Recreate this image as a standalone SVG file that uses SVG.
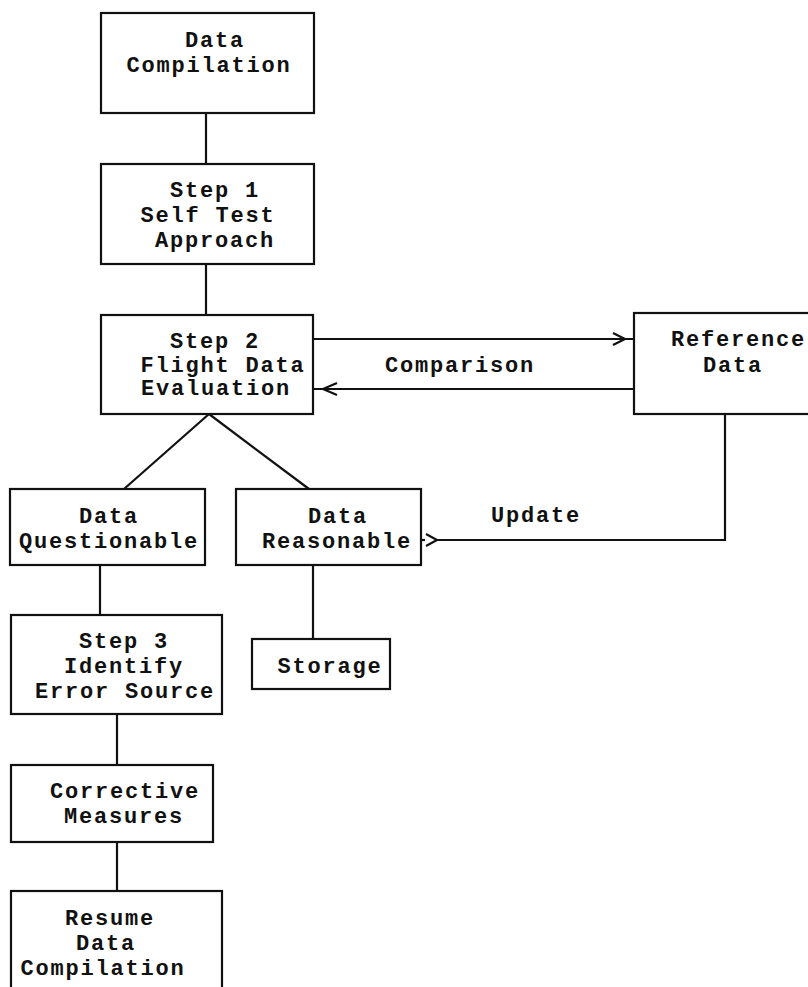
<svg xmlns="http://www.w3.org/2000/svg" width="808" height="987" viewBox="0 0 808 987">
  <style>
    .box { fill: #ffffff; stroke: #111111; stroke-width: 2.2; }
    .wire { fill: none; stroke: #111111; stroke-width: 2.2; }
    .head { fill: none; stroke: #111111; stroke-width: 2.2; stroke-linejoin: miter; }
    text { font-family: "Liberation Mono", "Courier New", monospace; font-weight: bold; font-size: 22px; letter-spacing: 1.8px; fill: #111111; text-anchor: middle; }
  </style>
  <rect width="808" height="987" fill="#ffffff"/>

  <!-- connectors -->
  <g id="connectors">
    <line class="wire" x1="206" y1="113" x2="206" y2="164"/>
    <line class="wire" x1="206" y1="264" x2="206" y2="315"/>
    <!-- comparison, outbound -->
    <line class="wire" x1="313" y1="339" x2="634" y2="339"/>
    <polyline class="head" points="613,333 625,339 613,345"/>
    <!-- comparison, return -->
    <line class="wire" x1="634" y1="389" x2="313" y2="389"/>
    <polyline class="head" points="337,383 323,389 337,395"/>
    <!-- branch from evaluation -->
    <line class="wire" x1="209" y1="414" x2="124" y2="489"/>
    <line class="wire" x1="209" y1="414" x2="309" y2="489"/>
    <!-- update loop -->
    <polyline class="wire" points="436,540 725,540 725,414"/>
    <line class="wire" x1="421" y1="540" x2="425" y2="540"/>
    <polyline class="head" points="426,534 437,540 426,546"/>
    <!-- questionable chain -->
    <line class="wire" x1="100" y1="565" x2="100" y2="615"/>
    <line class="wire" x1="117" y1="714" x2="117" y2="765"/>
    <line class="wire" x1="117" y1="842" x2="117" y2="891"/>
    <!-- storage -->
    <line class="wire" x1="313" y1="565" x2="313" y2="639"/>
    <text x="460" y="372">Comparison</text>
    <text x="536" y="522">Update</text>
  </g>

  <g id="data-compilation">
    <rect class="box" x="101" y="13" width="213" height="100"/>
    <text x="215" y="47">Data</text>
    <text x="209" y="72">Compilation</text>
  </g>

  <g id="step1">
    <rect class="box" x="101" y="164" width="213" height="100"/>
    <text x="215" y="197">Step 1</text>
    <text x="208" y="222">Self Test</text>
    <text x="215" y="247">Approach</text>
  </g>

  <g id="step2">
    <rect class="box" x="101" y="315" width="212" height="99"/>
    <text x="215" y="348">Step 2</text>
    <text x="223" y="372">Flight Data</text>
    <text x="216" y="395">Evaluation</text>
  </g>

  <g id="reference-data">
    <rect class="box" x="634" y="313" width="190" height="101"/>
    <text x="671" y="346" style="text-anchor:start">Reference</text>
    <text x="733" y="372">Data</text>
  </g>

  <g id="data-questionable">
    <rect class="box" x="10" y="489" width="195" height="76"/>
    <text x="109" y="523">Data</text>
    <text x="109" y="548">Questionable</text>
  </g>

  <g id="data-reasonable">
    <rect class="box" x="236" y="489" width="185" height="76"/>
    <text x="338" y="523">Data</text>
    <text x="337" y="548">Reasonable</text>
  </g>

  <g id="storage">
    <rect class="box" x="252" y="639" width="138" height="50"/>
    <text x="330" y="673">Storage</text>
  </g>

  <g id="step3">
    <rect class="box" x="11" y="615" width="211" height="99"/>
    <text x="124" y="648">Step 3</text>
    <text x="124" y="673">Identify</text>
    <text x="125" y="698">Error Source</text>
  </g>

  <g id="corrective-measures">
    <rect class="box" x="11" y="765" width="202" height="77"/>
    <text x="125" y="798">Corrective</text>
    <text x="124" y="823">Measures</text>
  </g>

  <g id="resume-data-compilation">
    <rect class="box" x="11" y="891" width="211" height="110"/>
    <text x="110" y="925">Resume</text>
    <text x="106" y="950">Data</text>
    <text x="103" y="975">Compilation</text>
  </g>
</svg>
